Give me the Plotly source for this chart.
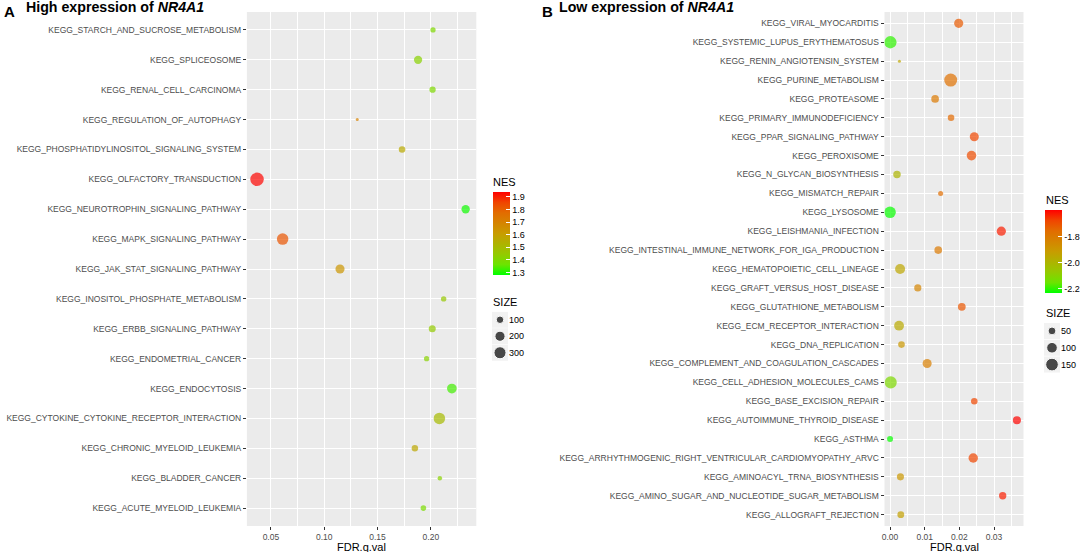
import numpy as np
import plotly.graph_objects as go

# --- panel A: high expression of NR4A1 (rows listed top -> bottom)
high_pathways = [
    'KEGG_STARCH_AND_SUCROSE_METABOLISM', 'KEGG_SPLICEOSOME', 'KEGG_RENAL_CELL_CARCINOMA',
    'KEGG_REGULATION_OF_AUTOPHAGY', 'KEGG_PHOSPHATIDYLINOSITOL_SIGNALING_SYSTEM',
    'KEGG_OLFACTORY_TRANSDUCTION', 'KEGG_NEUROTROPHIN_SIGNALING_PATHWAY',
    'KEGG_MAPK_SIGNALING_PATHWAY', 'KEGG_JAK_STAT_SIGNALING_PATHWAY',
    'KEGG_INOSITOL_PHOSPHATE_METABOLISM', 'KEGG_ERBB_SIGNALING_PATHWAY',
    'KEGG_ENDOMETRIAL_CANCER', 'KEGG_ENDOCYTOSIS', 'KEGG_CYTOKINE_CYTOKINE_RECEPTOR_INTERACTION',
    'KEGG_CHRONIC_MYELOID_LEUKEMIA', 'KEGG_BLADDER_CANCER', 'KEGG_ACUTE_MYELOID_LEUKEMIA',
]
high_fdr = [0.202, 0.188, 0.2016, 0.131, 0.173, 0.037, 0.2326, 0.061, 0.1148,
            0.212, 0.2013, 0.196, 0.2197, 0.208, 0.185, 0.2084, 0.193]
high_nes = [1.40, 1.42, 1.40, 1.70, 1.56, 1.93, 1.29, 1.82, 1.63,
            1.45, 1.44, 1.42, 1.33, 1.50, 1.57, 1.42, 1.39]
high_size = [52, 125, 70, 35, 76, 389, 126, 267, 155, 54, 87, 52, 181, 265, 73, 42, 57]

# --- panel B: low expression of NR4A1
low_pathways = [
    'KEGG_VIRAL_MYOCARDITIS', 'KEGG_SYSTEMIC_LUPUS_ERYTHEMATOSUS', 'KEGG_RENIN_ANGIOTENSIN_SYSTEM',
    'KEGG_PURINE_METABOLISM', 'KEGG_PROTEASOME', 'KEGG_PRIMARY_IMMUNODEFICIENCY',
    'KEGG_PPAR_SIGNALING_PATHWAY', 'KEGG_PEROXISOME', 'KEGG_N_GLYCAN_BIOSYNTHESIS',
    'KEGG_MISMATCH_REPAIR', 'KEGG_LYSOSOME', 'KEGG_LEISHMANIA_INFECTION',
    'KEGG_INTESTINAL_IMMUNE_NETWORK_FOR_IGA_PRODUCTION', 'KEGG_HEMATOPOIETIC_CELL_LINEAGE',
    'KEGG_GRAFT_VERSUS_HOST_DISEASE', 'KEGG_GLUTATHIONE_METABOLISM', 'KEGG_ECM_RECEPTOR_INTERACTION',
    'KEGG_DNA_REPLICATION', 'KEGG_COMPLEMENT_AND_COAGULATION_CASCADES',
    'KEGG_CELL_ADHESION_MOLECULES_CAMS', 'KEGG_BASE_EXCISION_REPAIR',
    'KEGG_AUTOIMMUNE_THYROID_DISEASE', 'KEGG_ASTHMA',
    'KEGG_ARRHYTHMOGENIC_RIGHT_VENTRICULAR_CARDIOMYOPATHY_ARVC',
    'KEGG_AMINOACYL_TRNA_BIOSYNTHESIS', 'KEGG_AMINO_SUGAR_AND_NUCLEOTIDE_SUGAR_METABOLISM',
    'KEGG_ALLOGRAFT_REJECTION',
]
low_fdr = [0.0198, 0.0001, 0.0027, 0.0175, 0.0130, 0.0176, 0.0243, 0.0235, 0.0020,
           0.0146, 0.0000, 0.0321, 0.0139, 0.0029, 0.0080, 0.0207, 0.0026, 0.0033,
           0.0107, 0.0002, 0.0243, 0.0366, 0.0000, 0.0240, 0.0030, 0.0325, 0.0031]
low_nes = [-1.72, -2.20, -1.95, -1.77, -1.80, -1.75, -1.68, -1.69, -2.00,
           -1.76, -2.23, -1.63, -1.80, -1.95, -1.84, -1.71, -1.96, -1.90,
           -1.82, -2.12, -1.68, -1.60, -2.23, -1.68, -1.90, -1.63, -1.93]
low_size = [70, 140, 17, 159, 48, 35, 69, 78, 46, 23, 121, 72, 48, 87, 42, 50, 84, 36,
            69, 133, 35, 53, 30, 76, 41, 44, 38]

high_size_keys = [100, 200, 300]
low_size_keys = [50, 100, 150]
high_nes_ticks = [1.3, 1.4, 1.5, 1.6, 1.7, 1.8, 1.9]
low_nes_ticks = [-2.2, -2.0, -1.8]

W, H = 1084, 552
FONT = 'Liberation Sans, Arial, sans-serif'

# green -> red, close to ggplot's scale_colour_gradient(low='green', high='red')
nes_scale = [[0.0, '#00FF00'], [0.125, '#6CE400'], [0.25, '#94CA00'], [0.5, '#C89C00'],
             [0.75, '#E26C00'], [0.875, '#F04400'], [1.0, '#FF0000']]


def px(x):
    return x / W


def py(y):
    return 1 - y / H


def dot_px(s, lo, hi, dmin=3.0, dmax=13.5):
    # area-style size scale (ggplot scale_size)
    s = np.asarray(s, dtype=float)
    return dmin + (dmax - dmin) * np.sqrt((s - lo) / (hi - lo))


def colorbar(x0, y0, ticks):
    return dict(x=px(x0), xanchor='left', y=py(y0), yanchor='top',
                len=83, lenmode='pixels', thickness=17, thicknessmode='pixels',
                xpad=0, ypad=0, outlinewidth=0, tickvals=ticks,
                ticktext=['%.1f' % t for t in ticks],
                ticks='inside', ticklen=4, tickcolor='white', tickwidth=1,
                tickfont=dict(family=FONT, size=9, color='black'))


fig = go.Figure()

hi_lo, hi_hi = min(high_size), max(high_size)
lo_lo, lo_hi = min(low_size), max(low_size)

fig.add_trace(go.Scatter(
    x=high_fdr, y=high_pathways, mode='markers',
    marker=dict(size=dot_px(high_size, hi_lo, hi_hi), color=high_nes,
                colorscale=nes_scale, cmin=1.279, cmax=1.935, line=dict(width=0),
                colorbar=colorbar(493, 192.3, high_nes_ticks)),
    xaxis='x', yaxis='y'))

fig.add_trace(go.Scatter(
    x=low_fdr, y=low_pathways, mode='markers',
    marker=dict(size=dot_px(low_size, lo_lo, lo_hi, dmax=13.0), color=low_nes,
                colorscale=nes_scale, cmin=-2.234, cmax=-1.597, line=dict(width=0),
                colorbar=colorbar(1045, 210, low_nes_ticks)),
    xaxis='x2', yaxis='y2'))

# SIZE keys drawn on two tiny axes (grey key box + black dot)
for keys, lo, hi, dmax, xa, ya in [(high_size_keys, hi_lo, hi_hi, 13.5, 'x3', 'y3'),
                                    (low_size_keys, lo_lo, lo_hi, 13.0, 'x4', 'y4')]:
    labels = [str(k) for k in keys]
    fig.add_trace(go.Scatter(x=[0] * len(keys), y=labels, mode='markers',
                             marker=dict(symbol='square', size=16, color='#F2F2F2'),
                             xaxis=xa, yaxis=ya, hoverinfo='skip'))
    fig.add_trace(go.Scatter(x=[0] * len(keys), y=labels, mode='markers',
                             marker=dict(size=dot_px(keys, lo, hi, dmax=dmax), color='black'),
                             xaxis=xa, yaxis=ya))

tick_font = dict(family=FONT, size=8.5, color='#4D4D4D')
grid = dict(showgrid=True, gridcolor='white', gridwidth=1.1, zeroline=False, showline=False,
            ticks='outside', ticklen=3, tickcolor='#333333', tickwidth=1,
            tickfont=tick_font, automargin=False)
ydom = [py(526), py(12)]
key_axis = dict(visible=False, range=[-1, 1], fixedrange=True)
key_y = dict(side='right', showgrid=False, zeroline=False, ticks='', automargin=False,
             tickfont=dict(family=FONT, size=9, color='black'), range=[-0.5, 2.5])

panel_bg = [dict(type='rect', xref=xr + ' domain', yref=yr + ' domain', x0=0, x1=1, y0=0, y1=1,
                 fillcolor='#EBEBEB', line=dict(width=0), layer='below')
            for xr, yr in [('x', 'y'), ('x2', 'y2')]]


def note(text, x, y, size, anchor='left'):
    return dict(text=text, x=px(x), y=py(y), xref='paper', yref='paper',
                xanchor=anchor, yanchor='middle', showarrow=False,
                font=dict(family=FONT, size=size, color='black'))


fig.update_layout(
    width=W, height=H,
    margin=dict(l=0, r=0, t=0, b=0),
    paper_bgcolor='white', plot_bgcolor='white',
    font=dict(family=FONT, color='black'),
    showlegend=False,
    xaxis=dict(domain=[px(246.9), px(476.3)], range=[0.0275, 0.2426], dtick=0.05, tick0=0,
               tickformat='.2f', anchor='y',
               minor=dict(dtick=0.025, tick0=0, showgrid=True, gridcolor='white', gridwidth=0.5),
               **grid),
    yaxis=dict(domain=ydom, anchor='x', categoryorder='array',
               categoryarray=high_pathways[::-1], range=[-0.6, len(high_pathways) - 0.4], **grid),
    xaxis2=dict(domain=[px(884.5), px(1023.5)], range=[-0.0016, 0.0385], dtick=0.01, tick0=0,
                tickformat='.2f', anchor='y2',
                minor=dict(dtick=0.005, tick0=0, showgrid=True, gridcolor='white', gridwidth=0.5),
                **grid),
    yaxis2=dict(domain=ydom, anchor='x2', categoryorder='array',
                categoryarray=low_pathways[::-1], range=[-0.6, len(low_pathways) - 0.4], **grid),
    xaxis3=dict(domain=[px(492), px(508)], anchor='y3', **key_axis),
    yaxis3=dict(domain=[py(361), py(311.5)], anchor='x3', categoryorder='array',
                categoryarray=[str(k) for k in high_size_keys][::-1], **key_y),
    xaxis4=dict(domain=[px(1044), px(1060)], anchor='y4', **key_axis),
    yaxis4=dict(domain=[py(373), py(322.5)], anchor='x4', categoryorder='array',
                categoryarray=[str(k) for k in low_size_keys][::-1], **key_y),
    shapes=panel_bg,
    annotations=[
        note('<b>A</b>', 2, 12, 15),
        note('<b>High expression of <i>NR4A1</i></b>', 24, 7, 14.2),
        note('<b>B</b>', 540, 12, 15),
        note('<b>Low expression of <i>NR4A1</i></b>', 557, 7, 14.2),
        note('NES', 491, 182, 11),
        note('NES', 1044, 200, 11),
        note('SIZE', 491, 301.7, 11),
        note('SIZE', 1044, 313, 11),
        note('FDR.q.val', 361.6, 546.5, 11, 'center'),
        note('FDR.q.val', 954, 547, 11, 'center'),
    ],
)

fig.write_html('out.html', config={'displayModeBar': False},
               post_script="document.body.style.margin='0';")
